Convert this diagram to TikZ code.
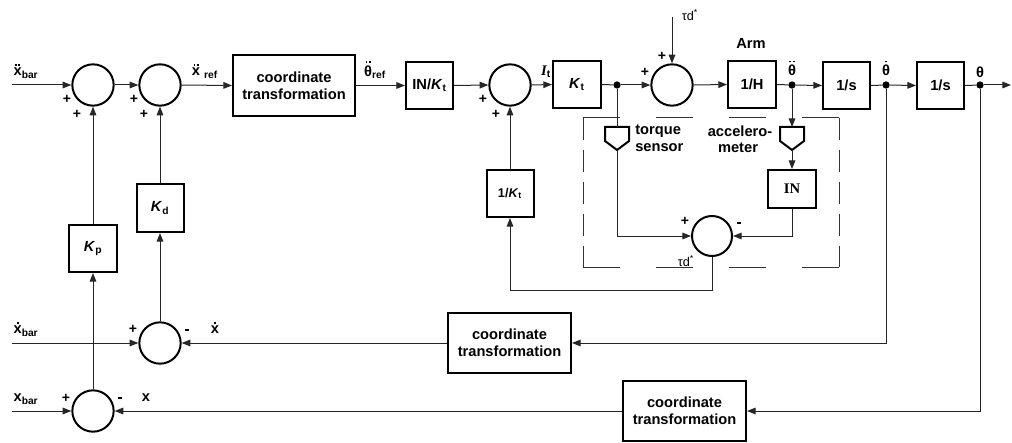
\documentclass[tikz,border=0pt]{standalone}
\usepackage{fontspec}
\usepackage{amsmath}
\setmainfont{Liberation Sans}
\newfontfamily\serifb{Liberation Serif}
\usetikzlibrary{arrows.meta}
\newcommand\sqd{\rule{1.4pt}{1.4pt}}
\newcommand\ddotb[1]{\leavevmode\vbox{\offinterlineskip\halign{\hfil##\hfil\cr\sqd\kern1pt\sqd\cr\noalign{\kern1.6pt}#1\cr}}}
\newcommand\sdotb[1]{\leavevmode\vbox{\offinterlineskip\halign{\hfil##\hfil\cr\sqd\cr\noalign{\kern1.6pt}#1\cr}}}
\newcommand\minussq{\rule{2.6pt}{2.2pt}}
\begin{document}
\begin{tikzpicture}[x=0.75pt,y=-0.75pt,
  font=\fontsize{11}{12.5}\selectfont\bfseries,
  blk/.style={draw, line width=1.5pt, rectangle, inner sep=0pt, align=center},
  box/.style 2 args={blk, minimum width={#1*0.75pt}, minimum height={#2*0.75pt}},
  sumc/.style={draw, circle, line width=1.5pt, minimum size=31pt, inner sep=0pt},
  conn/.style={line width=0.75pt, draw=black!85},
  arr/.style={conn, -{Triangle[length=6.5pt,width=5pt]}},
  jdot/.style={circle, fill=black, inner sep=0pt, minimum size=5.5pt},
  sgn/.style={font=\fontsize{10.5}{10.5}\selectfont\bfseries, inner sep=0pt},
  lbl/.style={inner sep=0pt},
  tau/.style={inner sep=0pt, font=\fontsize{9.5}{10}\selectfont},
  sens/.style={line width=1.5pt, line join=miter},
  dshh/.style={line width=0.75pt, draw=black!80, dash pattern=on 27.75pt off 27pt},
  dshv/.style={line width=0.75pt, draw=black!80, dash pattern=on 16.5pt off 7.5pt}
]
\useasboundingbox (0,0) rectangle (1012,442);

% ---------- top row ----------
\coordinate (in1) at (12,85);
\node[sumc] (s1) at (93,85) {};
\node[sumc] (s2) at (160,85) {};
\node[box={122}{61}] (ct1) at (294,85.5) {coordinate\\transformation};
\node[box={47}{47}] (inkt) at (429.5,85.5) {IN/\textit{K}$_{\text{t}}$};
\node[sumc] (s3) at (510,85) {};
\node[box={48}{47}] (kt) at (577,84.5) {\textit{K}$_{\text{t}}$};
\node[jdot] (j1) at (617,85) {};
\node[sumc] (s4) at (672,85) {};
\coordinate (td) at (672,17);
\node[box={48}{47}] (arm) at (752,84.5) {1/H};
\node[jdot] (j2) at (792,85) {};
\node[box={47}{47}] (int1) at (846.5,85.5) {1/s};
\node[jdot] (j3) at (886,85) {};
\node[box={47}{47}] (int2) at (940.5,85.5) {1/s};
\node[jdot] (j4) at (980,85) {};
\coordinate (out) at (1011,85);

% ---------- sensors and inner loop ----------
\draw[sens] (605,127) -- (629,127) -- (629,141) -- (617,150) -- (605,141) -- cycle;
\coordinate (tsT) at (617,127);
\coordinate (tsB) at (617,150);
\draw[sens] (780,127) -- (804,127) -- (804,141) -- (792,150) -- (780,141) -- cycle;
\coordinate (acT) at (792,127);
\coordinate (acB) at (792,150);
\node[box={48}{38}, font=\serifb\fontsize{11}{12}\selectfont\bfseries] (inb) at (792,189) {IN};
\node[sumc, minimum size=30pt] (s5) at (712,236) {};
\node[box={47}{47}, font=\fontsize{9.5}{11}\selectfont\bfseries] (ikt) at (510,193.5) {1/\textit{K}$_{\text{t}}$};
\coordinate (fb) at (712,290);

% dashed frame
\draw[dshh] (583,118) -- (839,118);
\draw[dshh] (583,267) -- (839,267);
\draw[dshv] (583,118) -- (583,267);
\draw[dshv] (839,118) -- (839,267);

% ---------- left controller ----------
\node[box={48}{47}] (kp) at (93,248.5) {\textit{K}$_{\text{p}}$};
\node[box={47}{48}] (kd) at (160,208) {\textit{K}$_{\text{d}}$};
\node[sumc] (s6) at (160,343) {};
\node[sumc] (s7) at (93,411) {};
\coordinate (in2) at (12,343);
\coordinate (in3) at (12,411);
\node[box={123}{60}] (ct2) at (509.5,343) {coordinate\\transformation};
\node[box={123}{60}] (ct3) at (684.5,411) {coordinate\\transformation};

% ---------- connectors ----------
\draw[arr] (in1) -- (s1.west);
\draw[arr] (s1.east) -- (s2.west);
\draw[arr] (s2.east) -- (ct1.west);
\draw[arr] (ct1.east) -- (inkt.west);
\draw[arr] (inkt.east) -- (s3.west);
\draw[arr] (s3.east) -- (kt.west);
\draw[conn] (kt.east) -- (j1);
\draw[arr] (j1) -- (s4.west);
\draw[arr] (td) -- (s4.north);
\draw[arr] (s4.east) -- (arm.west);
\draw[conn] (arm.east) -- (j2);
\draw[arr] (j2) -- (int1.west);
\draw[conn] (int1.east) -- (j3);
\draw[arr] (j3) -- (int2.west);
\draw[conn] (int2.east) -- (j4);
\draw[arr] (j4) -- (out);

\draw[conn] (j1) -- (tsT);
\draw[arr] (tsB) |- (s5.west);
\draw[arr] (j2) -- (acT);
\draw[arr] (acB) -- (inb.north);
\draw[arr] (inb.south) |- (s5.east);
\draw[arr] (s5.south) -- (fb) -| (ikt.south);
\draw[arr] (ikt.north) -- (s3.south);

\draw[arr] (kp.north) -- (s1.south);
\draw[arr] (kd.north) -- (s2.south);
\draw[arr] (s6.north) -- (kd.south);
\draw[arr] (s7.north) -- (kp.south);
\draw[arr] (in2) -- (s6.west);
\draw[arr] (in3) -- (s7.west);
\draw[arr] (j3) |- (ct2.east);
\draw[arr] (ct2.west) -- (s6.east);
\draw[arr] (j4) |- (ct3.east);
\draw[arr] (ct3.west) -- (s7.east);

% ---------- labels ----------
\node[lbl] (lx1) at (26,71) {\ddotb{x}$_{\text{bar}}$};
\node[lbl] (lxr) at (205,71) {\ddotb{x}\;$_{\text{ref}}$};
\node[lbl] (lthr) at (375,70) {\ddotb{θ}$_{\text{ref}}$};
\node[lbl] (lit) at (546,72) {{\serifb\bfseries\itshape I}$_{\text{t}}$};
\node[tau] (ltd1) at (690,15) {τd\textsuperscript{*}};
\node[lbl] (larm) at (751,43) {Arm};
\node[lbl] (lth2) at (792,68) {\ddotb{θ}};
\node[lbl] (lth1) at (886,68) {\sdotb{θ}};
\node[lbl] (lth0) at (980,72) {θ};
\node[lbl, anchor=west] (ltq1) at (635,131) {torque};
\node[lbl, anchor=west] (ltq2) at (635,148) {sensor};
\node[lbl] (lac1) at (740,131) {accelero-};
\node[lbl] (lac2) at (738,148) {meter};
\node[tau] (ltd2) at (686,261) {τd\textsuperscript{*}};
\node[lbl] (lx2) at (26,329) {\sdotb{x}$_{\text{bar}}$};
\node[lbl] (lxd) at (215,328) {\sdotb{x}};
\node[lbl] (lx3) at (26,399) {x$_{\text{bar}}$};
\node[lbl] (lx) at (146,398) {x};

% signs
\node[sgn] (p1a) at (67,99) {+};
\node[sgn] (p1b) at (77,114) {+};
\node[sgn] (p2a) at (134,99) {+};
\node[sgn] (p2b) at (144,114) {+};
\node[sgn] (p3a) at (483,99) {+};
\node[sgn] (p3b) at (496,114) {+};
\node[sgn] (p4a) at (645,72) {+};
\node[sgn] (p4b) at (662,56) {+};
\node[sgn] (p5a) at (685,221) {+};
\node[sgn] (m5) at (739,223) {\minussq};
\node[sgn] (p6) at (133,329) {+};
\node[sgn] (m6) at (187,330) {\minussq};
\node[sgn] (p7) at (66,398) {+};
\node[sgn] (m7) at (120,398) {\minussq};
\end{tikzpicture}
\end{document}
